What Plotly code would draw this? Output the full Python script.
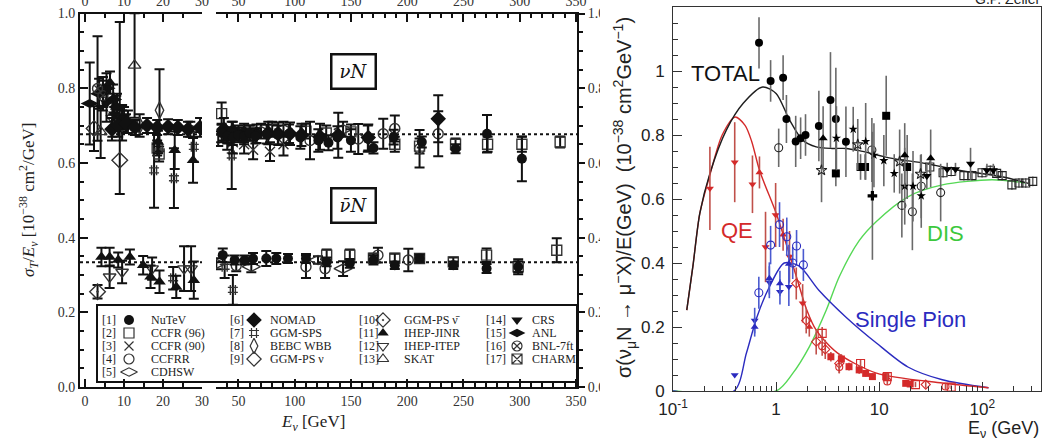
import plotly.graph_objects as go

W, H = 1049, 441

# ---------------- left panel: sigma_T / E_nu  [1e-38 cm^2/GeV] ----------------
NU_MEAN = 0.677
NUBAR_MEAN = 0.334

# neutrino (nu N) measurements
nutev_nu_E = [35, 40, 45, 50, 55, 60, 65, 75, 85, 95, 105, 121, 130, 138, 150, 165, 170, 188, 213, 243, 271, 302]
nutev_nu_v = [0.680, 0.672, 0.668, 0.675, 0.670, 0.680, 0.672, 0.677, 0.675, 0.678, 0.668, 0.660, 0.654, 0.668, 0.660, 0.665, 0.640, 0.669, 0.656, 0.638, 0.678, 0.611]
nutev_nu_e = [0.025, 0.02, 0.02, 0.02, 0.02, 0.02, 0.02, 0.025, 0.025, 0.025, 0.03, 0.03, 0.02, 0.03, 0.03, 0.035, 0.015, 0.02, 0.015, 0.012, 0.05, 0.06]

ccfr96_nu_E = [18.5, 19.0, 35, 60, 80, 110, 128, 150, 189, 211, 243, 271.5, 302, 336]
ccfr96_nu_v = [0.640, 0.624, 0.732, 0.680, 0.690, 0.685, 0.680, 0.683, 0.650, 0.645, 0.650, 0.650, 0.650, 0.656]
ccfr96_nu_e = [0.02, 0.02, 0.03, 0.02, 0.02, 0.02, 0.02, 0.02, 0.02, 0.02, 0.015, 0.02, 0.02, 0.015]

ccfr90_nu_E = [45, 55, 63, 78, 90]
ccfr90_nu_v = [0.655, 0.650, 0.635, 0.630, 0.650]
ccfr90_nu_e = [0.03, 0.025, 0.025, 0.025, 0.03]

ccfrr_nu_E = [40, 113.6, 156.5, 178.7, 189, 211, 227.6]
ccfrr_nu_v = [0.665, 0.660, 0.664, 0.678, 0.692, 0.638, 0.678]
ccfrr_nu_e = [0.03, 0.05, 0.04, 0.04, 0.035, 0.05, 0.06]

cdhsw_nu_E = [27, 32, 40, 50, 70, 90, 143]
cdhsw_nu_v = [0.690, 0.665, 0.675, 0.680, 0.685, 0.690, 0.690]
cdhsw_nu_e = [0.02, 0.02, 0.02, 0.02, 0.02, 0.02, 0.02]

nomad_nu_E = [6.9, 8.5, 10.5, 12.8, 15.9, 18.5, 21.3, 23.8, 26.4, 29.5, 37, 45, 55, 66, 76.5, 85.4, 95.8, 106, 122.5, 138.7, 165.4, 227.6]
nomad_nu_v = [0.690, 0.700, 0.705, 0.695, 0.700, 0.695, 0.697, 0.695, 0.690, 0.695, 0.690, 0.685, 0.680, 0.678, 0.680, 0.678, 0.678, 0.675, 0.670, 0.674, 0.668, 0.718]
nomad_nu_e = [0.03, 0.03, 0.025, 0.02, 0.02, 0.02, 0.02, 0.02, 0.02, 0.025, 0.03, 0.025, 0.025, 0.025, 0.03, 0.03, 0.03, 0.03, 0.035, 0.06, 0.035, 0.063]

ggmsps_nu_E = [17.7, 22.8, 27.9, 44]
ggmsps_nu_v = [0.580, 0.559, 0.643, 0.620]
ggmsps_nu_e = [0.10, 0.08, 0.04, 0.09]

bebc_nu_E = [14, 19.1]
bebc_nu_v = [0.700, 0.741]
bebc_nu_e = [0.03, 0.11]

ggmps_nu_E = [2.3, 8.9]
ggmps_nu_v = [0.692, 0.607]
ggmps_nu_ep = [0.06, 0.37]
ggmps_nu_em = [0.06, 0.09]

jinr_nu_E = [6.4, 8.0, 18.7, 23, 27.7]
jinr_nu_v = [0.815, 0.750, 0.656, 0.634, 0.607]
jinr_nu_e = [0.03, 0.03, 0.03, 0.05, 0.06]

itep_nu_E = [7.0, 9.5]
itep_nu_v = [0.720, 0.700]
itep_nu_e = [0.05, 0.04]

skat_nu_E = [4.0, 12.7]
skat_nu_v = [0.683, 0.861]
skat_nu_e = [0.07, 0.14]

crs_nu_E = [5.5, 7.5, 10]
crs_nu_v = [0.760, 0.730, 0.720]
crs_nu_e = [0.05, 0.04, 0.03]

anl_nu_E = [1.2, 3.6, 4.6, 5.5, 7.2, 8.2, 9.5, 11]
anl_nu_v = [0.759, 0.785, 0.790, 0.800, 0.770, 0.750, 0.720, 0.710]
anl_nu_e = [0.11, 0.04, 0.04, 0.04, 0.04, 0.035, 0.035, 0.03]

bnl_nu_E = [3.2, 4.6]
bnl_nu_v = [0.799, 0.780]
bnl_nu_e = [0.14, 0.04]

# antineutrino (nubar N) measurements
nutev_nb_E = [36, 46.6, 55.5, 62.9, 74.7, 83.6, 94, 110, 128.4, 149, 170, 189, 211, 241, 270.6, 298.7]
nutev_nb_v = [0.353, 0.340, 0.340, 0.344, 0.344, 0.344, 0.344, 0.344, 0.335, 0.331, 0.340, 0.326, 0.344, 0.326, 0.317, 0.322]
nutev_nb_e = [0.018, 0.012, 0.012, 0.015, 0.02, 0.015, 0.012, 0.012, 0.012, 0.012, 0.012, 0.01, 0.01, 0.01, 0.012, 0.015]

ccfr96_nb_E = [128.4, 149, 170, 189, 211, 241, 270.6, 298.7, 333]
ccfr96_nb_v = [0.353, 0.353, 0.345, 0.345, 0.344, 0.335, 0.353, 0.322, 0.366]
ccfr96_nb_e = [0.015, 0.015, 0.012, 0.012, 0.01, 0.012, 0.018, 0.02, 0.032]

ccfrr_nb_E = [48, 110, 127, 174, 201]
ccfrr_nb_v = [0.325, 0.322, 0.317, 0.353, 0.340]
ccfrr_nb_e = [0.015, 0.03, 0.025, 0.02, 0.03]

cdhsw_nb_E = [30.3, 61.4, 120.7, 143]
cdhsw_nb_v = [0.330, 0.322, 0.340, 0.317]
cdhsw_nb_e = [0.015, 0.015, 0.01, 0.02]

ggmsps_nb_E = [22.6, 37.7, 45]
ggmsps_nb_v = [0.291, 0.322, 0.260]
ggmsps_nb_e = [0.03, 0.03, 0.04]

ggmps_nb_E = [3.2]
ggmps_nb_v = [0.255]
ggmps_nb_e = [0.018]

jinr_nb_E = [4.2, 6.3, 8.5, 11.5, 14.9, 16.8, 19.1, 23.4, 27.9]
jinr_nb_v = [0.348, 0.348, 0.340, 0.348, 0.326, 0.295, 0.282, 0.268, 0.286]
jinr_nb_e = [0.025, 0.025, 0.02, 0.02, 0.025, 0.03, 0.03, 0.03, 0.05]

itep_nb_E = [6.3, 9.5, 17.2, 25.4, 27.2]
itep_nb_v = [0.295, 0.308, 0.317, 0.317, 0.317]
itep_nb_e = [0.03, 0.03, 0.03, 0.06, 0.06]

# legend: reference number, marker symbol, experiment name
legend_nums = ["[1]", "[2]", "[3]", "[4]", "[5]", "[6]", "[7]", "[8]", "[9]",
               "[10]", "[11]", "[12]", "[13]", "[14]", "[15]", "[16]", "[17]"]
legend_names = ["NuTeV", "CCFR (96)", "CCFR (90)", "CCFRR", "CDHSW", "NOMAD", "GGM-SPS",
                "BEBC WBB", "GGM-PS ν", "GGM-PS ν\u0304", "IHEP-JINR", "IHEP-ITEP", "SKAT",
                "CRS", "ANL", "BNL-7ft", "CHARM"]
legend_symbols = ["circle", "square-open", "x-thin-open", "circle-open", "diamond-wide-open",
                  "diamond", "hash-open", "diamond-tall-open", "diamond-open", "diamond-open-dot",
                  "triangle-up", "triangle-down-open", "triangle-up-open", "triangle-down",
                  "diamond-wide", "circle-x-open", "square-x-open"]
legend_sizes = [10, 10, 9, 10, 12, 12, 10, 11, 11, 11, 10, 10, 10, 10, 12, 10, 10]

# ---------------- right panel: sigma(nu_mu N -> mu- X)/E ----------------
total_E = [0.136, 0.156, 0.182, 0.228, 0.33, 0.48, 0.74, 1.0, 1.35, 1.81, 2.45, 3.5, 4.8, 6.4, 13.4, 28.3, 59, 124, 182, 280]
total_v = [0.253, 0.39, 0.555, 0.68, 0.816, 0.899, 0.95, 0.93, 0.847, 0.784, 0.763, 0.758, 0.758, 0.751, 0.727, 0.711, 0.69, 0.675, 0.665, 0.649]

qe_E = [0.136, 0.156, 0.182, 0.228, 0.3, 0.4, 0.5, 0.58, 0.69, 0.99, 1.17, 1.6, 1.96, 2.45, 3.9, 9.4, 41, 115]
qe_v = [0.253, 0.39, 0.555, 0.675, 0.80, 0.856, 0.83, 0.78, 0.69, 0.56, 0.49, 0.35, 0.258, 0.19, 0.12, 0.056, 0.025, 0.01]

pion_E = [0.1, 0.39, 0.515, 0.65, 0.86, 1.2, 1.68, 2.6, 4.8, 9.4, 19, 41, 115]
pion_v = [0, 0, 0.118, 0.23, 0.325, 0.40, 0.39, 0.315, 0.23, 0.15, 0.075, 0.035, 0.01]

dis_E = [0.1, 1.0, 1.45, 2.1, 3.07, 4.1, 6.4, 9.4, 19, 41, 124, 265]
dis_v = [0, 0, 0.055, 0.138, 0.253, 0.357, 0.47, 0.53, 0.607, 0.644, 0.66, 0.65]

# total cross-section data
tot_circ_E = [0.683, 0.885, 1.17, 1.26, 1.55, 1.73, 1.93, 2.6, 3.37, 3.8, 4.76]
tot_circ_v = [1.088, 0.969, 0.979, 0.85, 0.78, 0.79, 0.80, 0.828, 0.909, 0.85, 0.779]
tot_circ_e = [0.08, 0.065, 0.07, 0.075, 0.08, 0.065, 0.065, 0.11, 0.15, 0.16, 0.11]

tot_sq_E = [3.8, 6.6, 7.3, 11.7, 18.7]
tot_sq_v = [0.68, 0.70, 0.70, 0.86, 0.70]
tot_sq_e = [0.04, 0.04, 0.04, 0.125, 0.10]

tot_ocirc_E = [1.06, 8.5, 16.6, 21, 25.6, 39.5]
tot_ocirc_v = [0.76, 0.753, 0.58, 0.56, 0.64, 0.62]
tot_ocirc_e = [0.06, 0.10, 0.10, 0.12, 0.10, 0.09]

tot_star_E = [3.85, 5.6, 7.4, 8.9, 11.1, 14, 17.7, 21.3, 25.6]
tot_star_v = [0.79, 0.818, 0.78, 0.737, 0.72, 0.68, 0.64, 0.64, 0.61]
tot_star_e = [0.10, 0.07, 0.12, 0.10, 0.08, 0.06, 0.12, 0.11, 0.10]

tot_ostar_E = [2.76, 6.2, 15.8, 25.2]
tot_ostar_v = [0.69, 0.77, 0.717, 0.678]
tot_ostar_e = [0.10, 0.08, 0.10, 0.06]

tot_cross_E = [8.6]
tot_cross_v = [0.61]
tot_cross_e = [0.2]

tot_tup_E = [2.86, 17.7, 31.6]
tot_tup_v = [0.79, 0.737, 0.727]
tot_tup_e = [0.10, 0.10, 0.09]

tot_tdn_E = [29, 45.7, 55, 77, 111, 128]
tot_tdn_v = [0.672, 0.693, 0.693, 0.71, 0.69, 0.69]
tot_tdn_e = [0.04, 0.02, 0.02, 0.05, 0.02, 0.02]

tot_osq_E = [31, 41.7, 50, 66.4, 79.5, 99.6, 120, 138, 156, 194, 227, 264, 309]
tot_osq_v = [0.70, 0.682, 0.686, 0.673, 0.673, 0.682, 0.69, 0.68, 0.673, 0.644, 0.65, 0.65, 0.655]
tot_osq_e = [0.02, 0.015, 0.015, 0.015, 0.015, 0.015, 0.015, 0.015, 0.015, 0.015, 0.015, 0.015, 0.015]

# quasi-elastic data
qe_tdn_E = [0.228, 0.397, 0.59, 0.79, 0.99, 1.35, 1.81]
qe_tdn_v = [0.633, 0.715, 0.646, 0.45, 0.55, 0.42, 0.274]
qe_tdn_e = [0.13, 0.125, 0.09, 0.11, 0.10, 0.08, 0.06]

qe_tup_E = [0.69, 1.17, 2.1]
qe_tup_v = [0.683, 0.488, 0.20]
qe_tup_e = [0.05, 0.05, 0.03]

qe_dia_E = [1.57, 1.96, 2.45, 3.0, 4.1, 28.3]
qe_dia_v = [0.336, 0.22, 0.154, 0.13, 0.086, 0.02]
qe_dia_e = [0.05, 0.04, 0.04, 0.03, 0.03, 0.01]

qe_ocirc_E = [2.8, 4.1, 12, 44]
qe_ocirc_v = [0.14, 0.075, 0.03, 0.014]
qe_ocirc_e = [0.03, 0.02, 0.01, 0.01]

qe_sq_E = [3.4, 4.3, 5.1, 6.4, 7.4, 8.6, 11.6, 18.1, 20]
qe_sq_v = [0.107, 0.10, 0.076, 0.066, 0.055, 0.045, 0.045, 0.024, 0.022]
qe_sq_e = [0.015, 0.015, 0.012, 0.012, 0.01, 0.01, 0.01, 0.008, 0.008]

qe_osq_E = [2.8, 6.6, 12, 22.5, 50]
qe_osq_v = [0.18, 0.086, 0.045, 0.02, 0.012]
qe_osq_e = [0.02, 0.012, 0.01, 0.008, 0.006]

# single-pion data
pi_tdn_E = [0.397, 0.62, 0.86, 1.09, 1.33]
pi_tdn_v = [0.05, 0.22, 0.34, 0.31, 0.326]
pi_tdn_e = [0.0, 0.04, 0.05, 0.04, 0.06]

pi_tup_E = [0.62, 0.86, 1.09, 1.33]
pi_tup_v = [0.20, 0.352, 0.336, 0.397]
pi_tup_e = [0.03, 0.05, 0.04, 0.06]

pi_ocirc_E = [0.68, 0.885, 1.08, 1.27, 1.45, 1.58, 1.84]
pi_ocirc_v = [0.307, 0.456, 0.52, 0.482, 0.40, 0.453, 0.394]
pi_ocirc_e = [0.05, 0.06, 0.07, 0.06, 0.05, 0.05, 0.05]


def px(x):
    return x / W


def py(y):
    return 1 - y / H


SERIF = "Liberation Serif"
SANS = "Liberation Sans"
INK = "#111111"

fig = go.Figure()


def left_series(E, v, ep, symbol, size, em=None):
    """Split a left-panel series into the low-energy (0-30) and high-energy (30-350) frames."""
    em = ep if em is None else em
    opened = symbol.endswith("open") or symbol.endswith("dot")
    for lo, hi, xa, ya in [(-1e9, 30.0, "x", "y"), (30.0, 1e9, "x2", "y2")]:
        idx = [i for i, e in enumerate(E) if lo < e <= hi]
        if not idx:
            continue
        fig.add_trace(go.Scatter(
            x=[E[i] for i in idx], y=[v[i] for i in idx],
            xaxis=xa, yaxis=ya, mode="markers", showlegend=False, hoverinfo="skip",
            marker=dict(symbol=symbol, size=size, color=INK if not opened else "#333333",
                        line=dict(width=1.4 if opened else 0, color="#333333")),
            error_y=dict(type="data", array=[ep[i] for i in idx], arrayminus=[em[i] for i in idx],
                         color=INK, thickness=2, width=5),
        ))


# mean lines
for xa, ya, xr in [("x", "y", [-1.3, 30]), ("x2", "y2", [30, 351])]:
    for level in (NU_MEAN, NUBAR_MEAN):
        fig.add_trace(go.Scatter(x=xr, y=[level, level], xaxis=xa, yaxis=ya, mode="lines",
                                 line=dict(color=INK, width=2, dash="dot"),
                                 showlegend=False, hoverinfo="skip"))

left_series(anl_nu_E, anl_nu_v, anl_nu_e, "diamond-wide", 13)
left_series(bnl_nu_E, bnl_nu_v, bnl_nu_e, "circle-x-open", 10)
left_series(ggmps_nu_E, ggmps_nu_v, ggmps_nu_ep, "diamond-open", 12, ggmps_nu_em)
left_series(skat_nu_E, skat_nu_v, skat_nu_e, "triangle-up-open", 11)
left_series(bebc_nu_E, bebc_nu_v, bebc_nu_e, "diamond-tall-open", 12)
left_series(ggmsps_nu_E, ggmsps_nu_v, ggmsps_nu_e, "hash-open", 10)
left_series(ccfr96_nu_E, ccfr96_nu_v, ccfr96_nu_e, "square-open", 10)
left_series(ccfr90_nu_E, ccfr90_nu_v, ccfr90_nu_e, "x-thin-open", 10)
left_series(ccfrr_nu_E, ccfrr_nu_v, ccfrr_nu_e, "circle-open", 10)
left_series(cdhsw_nu_E, cdhsw_nu_v, cdhsw_nu_e, "diamond-wide-open", 13)
left_series(itep_nu_E, itep_nu_v, itep_nu_e, "triangle-down-open", 11)
left_series(crs_nu_E, crs_nu_v, crs_nu_e, "triangle-down", 11)
left_series(jinr_nu_E, jinr_nu_v, jinr_nu_e, "triangle-up", 11)
left_series(nomad_nu_E, nomad_nu_v, nomad_nu_e, "diamond", 12)
left_series(nutev_nu_E, nutev_nu_v, nutev_nu_e, "circle", 10)

left_series(ggmps_nb_E, ggmps_nb_v, ggmps_nb_e, "diamond-open-dot", 12)
left_series(ggmsps_nb_E, ggmsps_nb_v, ggmsps_nb_e, "hash-open", 10)
left_series(itep_nb_E, itep_nb_v, itep_nb_e, "triangle-down-open", 11)
left_series(jinr_nb_E, jinr_nb_v, jinr_nb_e, "triangle-up", 11)
left_series(cdhsw_nb_E, cdhsw_nb_v, cdhsw_nb_e, "diamond-wide-open", 13)
left_series(ccfrr_nb_E, ccfrr_nb_v, ccfrr_nb_e, "circle-open", 10)
left_series(ccfr96_nb_E, ccfr96_nb_v, ccfr96_nb_e, "square-open", 10)
left_series(nutev_nb_E, nutev_nb_v, nutev_nb_e, "circle", 10)

# top tick labels of the two left frames (empty traces keep the overlay axes alive)
fig.add_trace(go.Scatter(x=[], y=[], xaxis="x3", yaxis="y", showlegend=False))
fig.add_trace(go.Scatter(x=[], y=[], xaxis="x4", yaxis="y2", showlegend=False))

# ---------------- right panel traces ----------------
RED, BLUE, GREEN, DARK = "#d42a2a", "#2b2bbf", "#55d855", "#1e1e1e"


def right_series(E, v, e, symbol, size, color, bar_color):
    opened = symbol.endswith("open")
    fig.add_trace(go.Scatter(
        x=E, y=v, xaxis="x5", yaxis="y5", mode="markers", showlegend=False, hoverinfo="skip",
        marker=dict(symbol=symbol, size=size, color=color,
                    line=dict(width=1.1 if opened else 0, color=color)),
        error_y=dict(type="data", array=e, color=bar_color, thickness=1.6, width=0),
    ))


for E, v, c in [(dis_E, dis_v, GREEN), (pion_E, pion_v, BLUE), (qe_E, qe_v, RED), (total_E, total_v, DARK)]:
    fig.add_trace(go.Scatter(x=E, y=v, xaxis="x5", yaxis="y5", mode="lines",
                             line=dict(color=c, width=1.4, shape="spline", smoothing=0.8),
                             showlegend=False, hoverinfo="skip"))

GREYBAR = "#6a6a6a"
right_series(tot_osq_E, tot_osq_v, tot_osq_e, "square-open", 8, "#222222", GREYBAR)
right_series(tot_circ_E, tot_circ_v, tot_circ_e, "circle", 8, "#000000", GREYBAR)
right_series(tot_sq_E, tot_sq_v, tot_sq_e, "square", 8, "#000000", GREYBAR)
right_series(tot_ocirc_E, tot_ocirc_v, tot_ocirc_e, "circle-open", 8, "#222222", GREYBAR)
right_series(tot_star_E, tot_star_v, tot_star_e, "star", 7, "#000000", GREYBAR)
right_series(tot_ostar_E, tot_ostar_v, tot_ostar_e, "star-open", 8, "#222222", GREYBAR)
right_series(tot_cross_E, tot_cross_v, tot_cross_e, "cross", 8, "#000000", GREYBAR)
right_series(tot_tup_E, tot_tup_v, tot_tup_e, "triangle-up", 8, "#000000", GREYBAR)
right_series(tot_tdn_E, tot_tdn_v, tot_tdn_e, "triangle-down", 8, "#000000", GREYBAR)

REDBAR = "#c0504a"
right_series(qe_tdn_E, qe_tdn_v, qe_tdn_e, "triangle-down", 7, RED, REDBAR)
right_series(qe_tup_E, qe_tup_v, qe_tup_e, "triangle-up", 7, RED, REDBAR)
right_series(qe_dia_E, qe_dia_v, qe_dia_e, "diamond-open", 7, RED, REDBAR)
right_series(qe_ocirc_E, qe_ocirc_v, qe_ocirc_e, "circle-open", 7, RED, REDBAR)
right_series(qe_sq_E, qe_sq_v, qe_sq_e, "square", 7, RED, REDBAR)
right_series(qe_osq_E, qe_osq_v, qe_osq_e, "square-open", 8, RED, REDBAR)

BLUEBAR = "#4a5ad0"
right_series(pi_tdn_E, pi_tdn_v, pi_tdn_e, "triangle-down", 7, BLUE, BLUEBAR)
right_series(pi_tup_E, pi_tup_v, pi_tup_e, "triangle-up", 7, BLUE, BLUEBAR)
right_series(pi_ocirc_E, pi_ocirc_v, pi_ocirc_e, "circle-open", 8, BLUE, BLUEBAR)

# legend symbols of the left panel, placed on a full-figure pixel grid
LEG_COL_X = [129, 254, 383, 517]
LEG_ROW_Y = [320, 333, 346, 359, 372]
leg_col = [0, 0, 0, 0, 0, 1, 1, 1, 1, 2, 2, 2, 2, 3, 3, 3, 3]
leg_row = [0, 1, 2, 3, 4, 0, 1, 2, 3, 0, 1, 2, 3, 0, 1, 2, 3]
for i, sym in enumerate(legend_symbols):
    opened = sym.endswith("open") or sym.endswith("dot")
    fig.add_trace(go.Scatter(
        x=[LEG_COL_X[leg_col[i]]], y=[LEG_ROW_Y[leg_row[i]]], xaxis="x6", yaxis="y6",
        mode="markers", showlegend=False, hoverinfo="skip", cliponaxis=False,
        marker=dict(symbol=sym, size=legend_sizes[i], color=INK if not opened else "#333333",
                    line=dict(width=1.2 if opened else 0, color="#333333")),
    ))

# ---------------- axes ----------------
lt = dict(family=SERIF, size=14, color="#333333")
frame = dict(showline=True, linecolor=INK, linewidth=2, ticks="inside", tickcolor=INK,
             tickwidth=2, ticklen=8, showgrid=False, zeroline=False, tickfont=lt)

Y0, Y1 = 387, 13.5
layout_axes = dict(
    xaxis=dict(**frame, domain=[px(80), px(202)], range=[-1.3, 30], anchor="y",
               tickvals=[0, 10, 20, 30], mirror="allticks",
               minor=dict(dtick=5, tick0=0, ticks="inside", ticklen=4, tickwidth=2, tickcolor=INK)),
    xaxis2=dict(**frame, domain=[px(216), px(577)], range=[30, 351], anchor="y2",
                tickvals=[50, 100, 150, 200, 250, 300, 350], mirror="allticks",
                minor=dict(dtick=10, tick0=0, ticks="inside", ticklen=4, tickwidth=2, tickcolor=INK)),
    xaxis3=dict(overlaying="x", side="top", anchor="y", range=[-1.3, 30], tickvals=[0, 10, 20, 30],
                showline=False, ticks="", showgrid=False, zeroline=False, tickfont=lt,
                ticklabelstandoff=4),
    xaxis4=dict(overlaying="x2", side="top", anchor="y2", range=[30, 351],
                tickvals=[50, 100, 150, 200, 250, 300, 350],
                showline=False, ticks="", showgrid=False, zeroline=False, tickfont=lt,
                ticklabelstandoff=4),
    yaxis=dict(**frame, domain=[py(Y0), py(Y1)], range=[0, 1.0], anchor="x",
               tickvals=[0, 0.2, 0.4, 0.6, 0.8, 1.0], ticktext=["0.0", "0.2", "0.4", "0.6", "0.8", "1.0"],
               minor=dict(dtick=0.05, tick0=0, ticks="inside", ticklen=4, tickwidth=2, tickcolor=INK)),
    yaxis2=dict(showline=True, linecolor=INK, linewidth=2, ticks="outside", tickcolor=INK,
                tickwidth=2, ticklen=6, showgrid=False, zeroline=False, tickfont=lt,
                domain=[py(Y0), py(Y1)], range=[0, 1.0], anchor="x2", side="right",
                tickvals=[0, 0.2, 0.4, 0.6, 0.8, 1.0], ticktext=["0.0", "0.2", "0.4", "0.6", "0.8", "1.0"],
                minor=dict(dtick=0.05, tick0=0, ticks="outside", ticklen=4, tickwidth=2, tickcolor=INK)),
    xaxis5=dict(type="log", domain=[px(673), px(1041)], range=[-1, 2.57], anchor="y5",
                showline=True, mirror=True, linecolor="#333333", linewidth=1,
                ticks="inside", ticklen=9, tickcolor="#333333", tickwidth=1,
                tickvals=[0.1, 1, 10, 100], ticktext=["10<sup>-1</sup>", "1", "10", "10<sup>2</sup>"],
                tickfont=dict(family=SANS, size=17, color="#222222"), ticklabelstandoff=3,
                minor=dict(ticks="inside", ticklen=5, tickcolor="#333333",
                           tickvals=[m * 10 ** d for d in (-1, 0, 1, 2) for m in range(2, 10)]),
                showgrid=False, zeroline=False),
    yaxis5=dict(domain=[py(391), py(7)], range=[0, 1.2], anchor="x5",
                showline=True, mirror=True, linecolor="#333333", linewidth=1,
                ticks="inside", ticklen=9, tickcolor="#333333", tickwidth=1,
                tickvals=[0, 0.2, 0.4, 0.6, 0.8, 1.0, 1.2], ticktext=["0", "0.2", "0.4", "0.6", "0.8", "1", "1.2"],
                tickfont=dict(family=SANS, size=17, color="#222222"), ticklabelstandoff=4,
                minor=dict(dtick=0.05, tick0=0, ticks="inside", ticklen=5, tickcolor="#333333"),
                showgrid=False, zeroline=False),
    xaxis6=dict(domain=[0, 1], range=[0, W], visible=False, anchor="y6", fixedrange=True),
    yaxis6=dict(domain=[0, 1], range=[H, 0], visible=False, anchor="x6", fixedrange=True),
)


def note(text, x, y, size, color="#222222", family=SERIF, xanchor="center", **kw):
    return dict(x=px(x), y=py(y), xref="paper", yref="paper", showarrow=False, text=text,
                xanchor=xanchor, yanchor="middle", font=dict(family=family, size=size, color=color), **kw)


ann = []
# left-panel axis titles
ann.append(note("<i>σ<sub>T</sub></i>/<i>E<sub>ν</sub></i> [10<sup>−38</sup> cm<sup>2</sup>/GeV]",
                28, 200, 17, textangle=-90))
ann.append(note("<i>E<sub>ν</sub></i> [GeV]", 313, 423, 17))
# boxed reaction labels
for text, yc in [("<i>νN</i>", 71), ("<i>ν\u0304N</i>", 206)]:
    ann.append(note(text, 353.5, yc, 18, color=INK, family="DejaVu Serif", bordercolor=INK,
                    borderwidth=2.5, borderpad=3, bgcolor="white", width=36, height=26))
# legend text
LEG_NUM_X = [100, 228, 357, 484]
LEG_NAME_X = [149, 268, 402, 530]
for i in range(len(legend_names)):
    c, r = leg_col[i], leg_row[i]
    ann.append(note(legend_nums[i], LEG_NUM_X[c], LEG_ROW_Y[r], 12, xanchor="left"))
    ann.append(note(legend_names[i], LEG_NAME_X[c], LEG_ROW_Y[r], 12, xanchor="left"))

# right-panel titles and curve labels
ann.append(note("σ(ν<sub>μ</sub>N → μ<sup>−</sup>X)/E(GeV)  (10<sup>−38</sup> cm<sup>2</sup>GeV<sup>−1</sup>)",
                624, 198, 20, family=SANS, textangle=-90))
ann.append(note("E<sub>ν</sub> (GeV)", 1041, 429, 18, family=SANS, xanchor="right"))
ann.append(note("G.P. Zeller", 1042, -1, 14, family=SANS, xanchor="right"))
for text, xc, yc, col in [("TOTAL", 725, 73, "#111111"), ("QE", 737, 230, RED),
                          ("DIS", 945, 233, "#3cc83c"), ("Single Pion", 910, 319, BLUE)]:
    ann.append(note(text, xc, yc, 22, color=col, family=SANS))

shapes = [
    # legend frame
    dict(type="rect", xref="paper", yref="paper", x0=px(97), x1=px(577), y0=py(382), y1=py(305),
         line=dict(color=INK, width=2), fillcolor="white", layer="below"),
    # right-hand tick labels of the left panel are cut by the neighbouring panel
    dict(type="rect", xref="paper", yref="paper", x0=px(600), x1=px(612), y0=0, y1=1,
         line=dict(width=0), fillcolor="white", layer="above"),
]

fig.update_layout(
    width=W, height=H, margin=dict(l=0, r=0, t=0, b=0, autoexpand=False),
    paper_bgcolor="white", plot_bgcolor="rgba(0,0,0,0)",
    showlegend=False, annotations=ann, shapes=shapes, **layout_axes,
)

fig.write_html("out.html")
